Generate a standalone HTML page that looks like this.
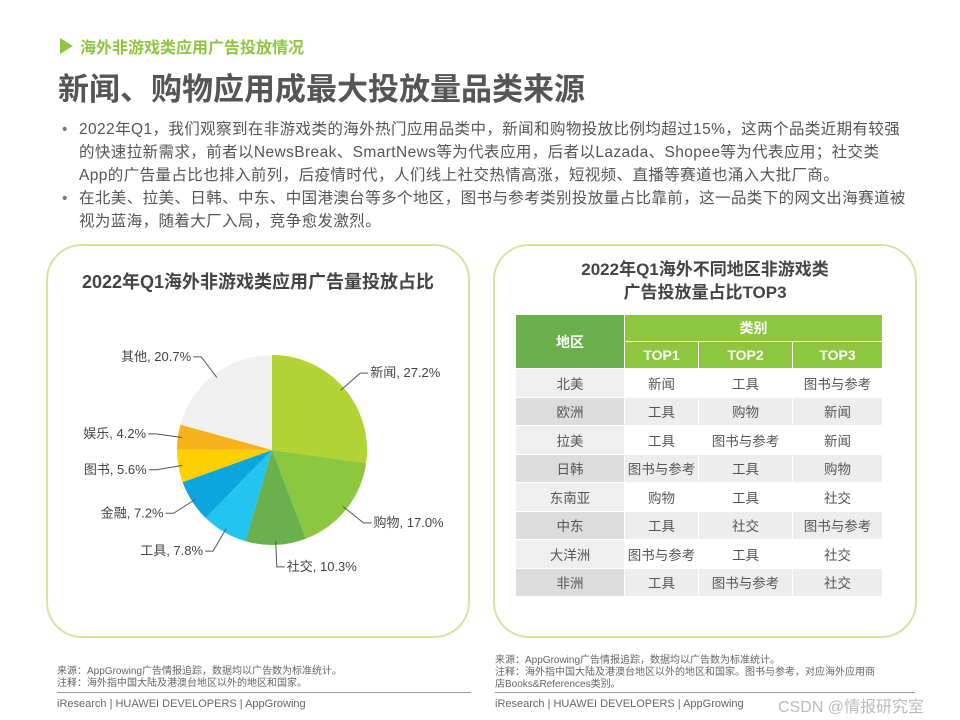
<!DOCTYPE html>
<html><head><meta charset="utf-8">
<style>
body{margin:0;width:960px;height:720px;background:#fff;position:relative;overflow:hidden;font-family:"Liberation Sans","Noto Sans CJK SC",sans-serif;color:#555}
.abs{position:absolute}
.sub{left:60px;top:37px;font-size:16px;font-weight:bold;color:#8dc63f}
.tri{left:60px;top:38px;width:0;height:0;border-top:8px solid transparent;border-bottom:8px solid transparent;border-left:13px solid #8dc63f}
.title{left:58px;top:64px;font-size:31px;font-weight:bold;color:#555}
.bul{left:62px;top:118px;width:880px;font-size:15.5px;line-height:23px;color:#555;letter-spacing:0.4px;white-space:nowrap}
.bul p{margin:0;padding-left:17px;position:relative}
.bul p:before{content:"•";position:absolute;left:0;color:#777}
.panel{border:2px solid #d3e6a0;border-radius:36px;background:#fff}
.ptitle{font-size:18px;font-weight:bold;color:#444;text-align:center}
table{border-collapse:collapse;font-size:13.5px;color:#555}
td{text-align:center;padding:0;border:1px solid #fff}
.note{font-size:10px;color:#666;line-height:12px}
.foot{font-size:11px;color:#666}
</style></head><body>
<div class="abs tri"></div>
<div class="abs sub" style="left:80px;top:34px">海外非游戏类应用广告投放情况</div>
<div class="abs title">新闻、购物应用成最大投放量品类来源</div>
<div class="abs bul">
<p>2022年Q1，我们观察到在非游戏类的海外热门应用品类中，新闻和购物投放比例均超过15%，这两个品类近期有较强<br>的快速拉新需求，前者以NewsBreak、SmartNews等为代表应用，后者以Lazada、Shopee等为代表应用；社交类<br>App的广告量占比也排入前列，后疫情时代，人们线上社交热情高涨，短视频、直播等赛道也涌入大批厂商。</p>
<p>在北美、拉美、日韩、中东、中国港澳台等多个地区，图书与参考类别投放量占比靠前，这一品类下的网文出海赛道被<br>视为蓝海，随着大厂入局，竞争愈发激烈。</p>
</div>

<div class="abs panel" style="left:46px;top:244px;width:420px;height:390px"></div>
<div class="abs ptitle" style="left:48px;top:268px;width:420px">2022年Q1海外非游戏类应用广告量投放占比</div>
<svg class="abs" style="left:0;top:0" width="960" height="720" id="pie"></svg>

<div class="abs panel" style="left:493px;top:244px;width:420px;height:390px"></div>
<div class="abs ptitle" style="left:495px;top:258px;width:420px;line-height:23px;font-size:17px">2022年Q1海外不同地区非游戏类<br>广告投放量占比TOP3</div>
<table class="abs" style="left:515px;top:314px;width:368px" id="tbl">
<tr style="height:27px"><td rowspan="2" style="width:108px;background:#6ab04c;color:#fff;font-weight:bold;font-size:14px">地区</td><td colspan="3" style="background:#8dc63f;color:#fff;font-weight:bold;font-size:14px">类别</td></tr>
<tr style="height:27px;background:#8dc63f;color:#fff;font-weight:bold;font-size:14px"><td style="width:73px">TOP1</td><td style="width:93px">TOP2</td><td>TOP3</td></tr>
</table>

<div class="abs note" style="left:57px;top:666px">来源：AppGrowing广告情报追踪，数据均以广告数为标准统计。<br>注释：海外指中国大陆及港澳台地区以外的地区和国家。</div>
<div class="abs" style="left:57px;top:692px;width:414px;height:1px;background:#999"></div>
<div class="abs foot" style="left:57px;top:698px">iResearch | HUAWEI DEVELOPERS | AppGrowing</div>
<div class="abs note" style="left:495px;top:655px">来源：AppGrowing广告情报追踪，数据均以广告数为标准统计。<br>注释：海外指中国大陆及港澳台地区以外的地区和国家。图书与参考，对应海外应用商<br>店Books&amp;References类别。</div>
<div class="abs" style="left:495px;top:692px;width:420px;height:1px;background:#999"></div>
<div class="abs foot" style="left:495px;top:698px">iResearch | HUAWEI DEVELOPERS | AppGrowing</div>
<div class="abs" style="left:778px;top:693px;font-size:16px;color:#bbb">CSDN @情报研究室</div>

<script>
const labels=["新闻","购物","社交","工具","金融","图书","娱乐","其他"];
const values=[27.2,17.0,10.3,7.8,7.2,5.6,4.2,20.7];
const colors=["#b3d234","#8dc63f","#6ab04c","#22c5f0","#0aa7df","#ffd000","#f6b11b","#f0f0f0"];
const regions=["北美","欧洲","拉美","日韩","东南亚","中东","大洋洲","非洲"];
const top1=["新闻","工具","工具","图书与参考","购物","工具","图书与参考","工具"];
const top2=["工具","购物","图书与参考","工具","工具","社交","工具","图书与参考"];
const top3=["图书与参考","新闻","新闻","购物","社交","图书与参考","社交","社交"];
const NS="http://www.w3.org/2000/svg";
const svg=document.getElementById('pie');
const cx=272,cy=450,r=95;
const total=values.reduce((a,b)=>a+b,0);
function pt(a,rr){return [cx+rr*Math.sin(a),cy-rr*Math.cos(a)];}
let acc=0;
values.forEach((v,i)=>{
  const a0=acc/total*2*Math.PI;acc+=v;const a1=acc/total*2*Math.PI;
  const p0=pt(a0,r),p1=pt(a1,r);
  const path=document.createElementNS(NS,'path');
  path.setAttribute('d',`M${cx},${cy}L${p0[0]},${p0[1]}A${r},${r} 0 ${a1-a0>Math.PI?1:0} 1 ${p1[0]},${p1[1]}Z`);
  path.setAttribute('fill',colors[i]);
  
  
  svg.appendChild(path);
  const am=(a0+a1)/2;const e=pt(am,r-4),k=pt(am,r+22);
  const right=Math.sin(am)>=0;
  const lx=k[0]+(right?8:-8);
  const ln=document.createElementNS(NS,'polyline');
  ln.setAttribute('points',`${e[0]},${e[1]} ${k[0]},${k[1]} ${lx},${k[1]}`);
  ln.setAttribute('fill','none');ln.setAttribute('stroke','#555');ln.setAttribute('stroke-width','1');
  
  
  svg.appendChild(ln);
  const t=document.createElementNS(NS,'text');
  t.setAttribute('x',lx+(right?2:-2));t.setAttribute('y',k[1]+4);
  t.setAttribute('text-anchor',right?'start':'end');
  t.setAttribute('font-size','13');t.setAttribute('fill','#444');
  t.textContent=labels[i]+', '+v.toFixed(1)+'%';
  
  
  svg.appendChild(t);
});
const tbl=document.getElementById('tbl');
regions.forEach((rg,i)=>{
  const tr=document.createElement('tr');
  tr.style.height='28.5px';
  const shade=i%2===1;
  
  
  [rg,top1[i],top2[i],top3[i]].forEach((c,j)=>{
    const td=document.createElement('td');
    td.textContent=c;
    td.style.background=j===0?(shade?'#dcdcdc':'#efefef'):(shade?'#ededed':'#fff');
    tr.appendChild(td);
  });
  tbl.appendChild(tr);
});
</script>
</body></html>
